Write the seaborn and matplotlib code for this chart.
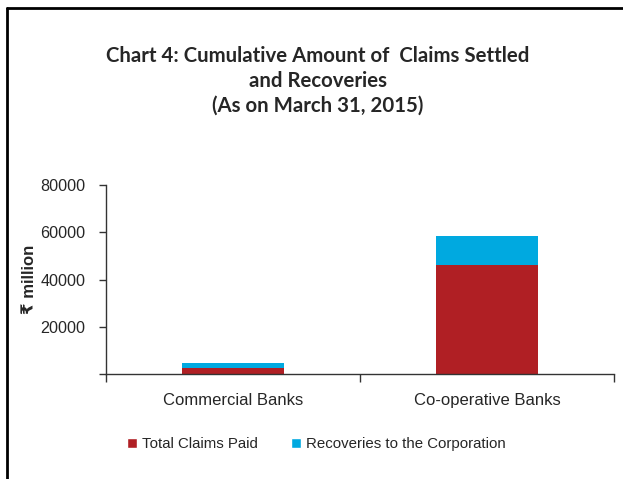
import numpy as np
import pandas as pd
import matplotlib
matplotlib.use("Agg")
import matplotlib.pyplot as plt
import seaborn as sns
from matplotlib.patches import Patch
from matplotlib.lines import Line2D

# values (₹ million)
categories = ['Commercial Banks', 'Co-operative Banks']
claims_paid = [2600, 46000]
recoveries = [2000, 12600]
series_names = ['Total Claims Paid', 'Recoveries to the Corporation']
red = '#B01F24'
blue = '#00A9E0'

sns.set_theme(style='white')
plt.rcParams['font.family'] = ['Liberation Sans', 'DejaVu Sans']

df = pd.DataFrame({'bank': categories, 'paid': claims_paid, 'rec': recoveries})
df['total'] = df['paid'] + df['rec']

fig = plt.figure(figsize=(6.23, 4.79), dpi=100)
ax = fig.add_axes([106 / 623, 1 - 374 / 479, (614 - 106) / 623, (374 - 185) / 479])

sns.barplot(data=df, x='bank', y='total', color=blue, width=0.4, saturation=1, linewidth=0, ax=ax)
sns.barplot(data=df, x='bank', y='paid', color=red, width=0.4, saturation=1, linewidth=0, ax=ax)

ax.set_xlim(-0.5, 1.5)
ax.set_ylim(0, 80000)
ax.set_yticks([0, 20000, 40000, 60000, 80000])
ax.set_yticklabels(['', '20000', '40000', '60000', '80000'])
ax.set_xlabel('')
ax.set_ylabel('₹ million', fontsize=12, fontweight='bold')
ax.yaxis.set_label_coords((37 - 106) / 508, 0.5)
ax.tick_params(axis='y', length=5, width=1, color='#333333', labelsize=11.6, pad=10, left=True)
ax.tick_params(axis='x', which='major', length=0, labelsize=12, pad=14)
ax.set_xticks([-0.5, 0.5, 1.5], minor=True)
ax.tick_params(axis='x', which='minor', length=6, width=1, color='#333333', bottom=True)
for side in ['top', 'right']:
    ax.spines[side].set_visible(False)
for side in ['left', 'bottom']:
    ax.spines[side].set_color('#333333')
    ax.spines[side].set_linewidth(1)

title_font = ['Lato', 'DejaVu Sans']
for y, line in [(56, 'Chart 4: Cumulative Amount of  Claims Settled'),
                (81, 'and Recoveries'),
                (106, '(As on March 31, 2015)')]:
    fig.text(318 / 623, 1 - y / 479, line, ha='center', va='center',
             fontsize=14.7, fontweight='bold', family=title_font)

handles = [Patch(facecolor=red, label=series_names[0]), Patch(facecolor=blue, label=series_names[1])]
fig.legend(handles=handles, loc='center', bbox_to_anchor=(316 / 623, 1 - 444 / 479), ncol=2,
           frameon=False, fontsize=10.8, handlelength=0.7, handleheight=0.7,
           handletextpad=0.3, columnspacing=2.2)

# outer frame of the original chart
fig.add_artist(Line2D([7 / 623, 7 / 623], [0, 1 - 8 / 479], color='black', lw=2, transform=fig.transFigure))
fig.add_artist(Line2D([7 / 623, 1], [1 - 8 / 479, 1 - 8 / 479], color='black', lw=2, transform=fig.transFigure))

fig.savefig('out.png', dpi=100)
